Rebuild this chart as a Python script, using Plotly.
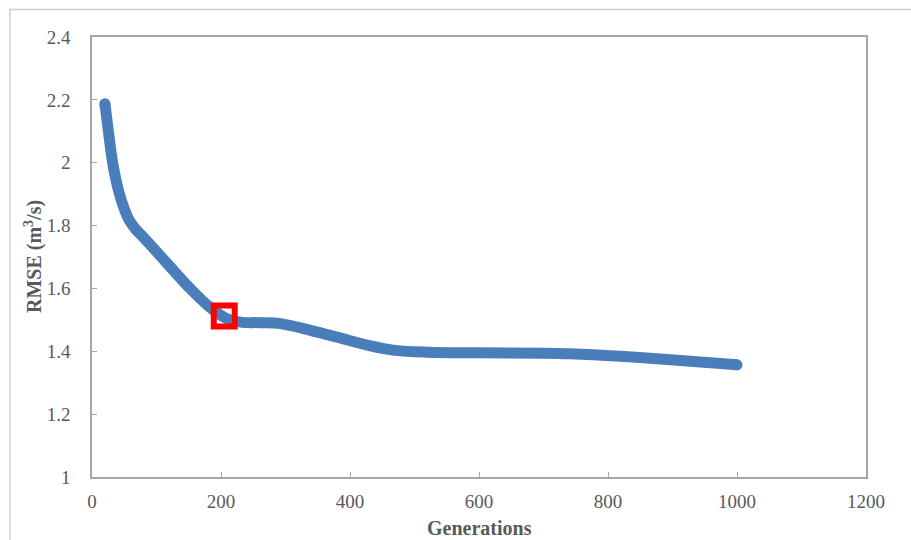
import plotly.graph_objects as go

generations = [20, 26, 32, 41, 49, 57, 67, 80, 100, 125, 152, 180, 205, 230, 260, 292, 340, 380, 430, 470, 520, 600, 700, 742, 819, 897, 1000]
rmse = [2.188, 2.09, 2.0, 1.912, 1.859, 1.82, 1.79, 1.762, 1.717, 1.66, 1.60, 1.545, 1.508, 1.493, 1.491, 1.488, 1.466, 1.445, 1.418, 1.403, 1.397, 1.395, 1.394, 1.392, 1.384, 1.373, 1.357]

highlight_gen = [205]
highlight_rmse = [1.512]

x_ticks = [0, 200, 400, 600, 800, 1000, 1200]
y_ticks = [1, 1.2, 1.4, 1.6, 1.8, 2, 2.2, 2.4]

x_title = "<b>Generations</b>"
y_title = "<b>RMSE (m<sup>3</sup>/s)</b>"

blue = "#4A7EBB"
axis_col = "#A6A6A6"
text_col = "#595959"
font_fam = "Liberation Serif, Times New Roman, serif"

fig = go.Figure()
fig.add_trace(go.Scatter(
    x=generations, y=rmse, mode="lines",
    line=dict(color=blue, width=11, shape="spline", smoothing=1.0),
    showlegend=False, hoverinfo="skip"))
# round caps at ends
fig.add_trace(go.Scatter(
    x=[generations[0], generations[-1]], y=[rmse[0], rmse[-1]], mode="markers",
    marker=dict(color=blue, size=11, line=dict(width=0)),
    showlegend=False, hoverinfo="skip"))
fig.add_trace(go.Scatter(
    x=highlight_gen, y=highlight_rmse, mode="markers",
    marker=dict(symbol="square-open", size=21, color="#FF0000",
                line=dict(color="#FF0000", width=6)),
    showlegend=False, hoverinfo="skip"))

L, R, T, B = 92, 45, 37, 63
W, H = 911, 540
pw, ph = W - L - R, H - T - B

fig.update_layout(
    width=W, height=H,
    margin=dict(l=L, r=R, t=T, b=B, autoexpand=False),
    paper_bgcolor="white", plot_bgcolor="white",
    font=dict(family=font_fam, color=text_col, size=19),
    shapes=[dict(type="rect", xref="paper", yref="paper",
                 x0=(10 - L) / pw, x1=1.2,
                 y0=-0.3, y1=(H - B - 9.5) / ph,
                 line=dict(color="#CFCFCF", width=1.5), layer="below")],
    annotations=[
        dict(text=x_title, xref="paper", yref="paper", x=0.5,
             y=-(528 - (H - B)) / ph, xanchor="center", yanchor="middle",
             showarrow=False, font=dict(size=20, color=text_col, family=font_fam)),
        dict(text=y_title, xref="paper", yref="paper", x=(33 - L) / pw,
             y=0.5, xanchor="center", yanchor="middle", textangle=-90,
             showarrow=False, font=dict(size=20, color=text_col, family=font_fam)),
    ],
)
fig.update_xaxes(
    range=[0, 1200], tickvals=x_ticks, ticktext=[str(v) for v in x_ticks],
    showgrid=False, zeroline=False, automargin=False,
    showline=True, mirror=True, linecolor=axis_col, linewidth=1.5,
    ticks="inside", ticklen=5, tickcolor=axis_col, tickwidth=1,
    ticklabelstandoff=6,
    tickfont=dict(size=19, color=text_col, family=font_fam),
)
fig.update_yaxes(
    range=[1, 2.4], tickvals=y_ticks, ticktext=[f"{v:g}" for v in y_ticks],
    showgrid=False, zeroline=False, automargin=False,
    showline=True, mirror=True, linecolor=axis_col, linewidth=1.5,
    ticks="inside", ticklen=5, tickcolor=axis_col, tickwidth=1,
    ticklabelstandoff=16,
    tickfont=dict(size=19, color=text_col, family=font_fam),
)

fig.write_html("out.html")
